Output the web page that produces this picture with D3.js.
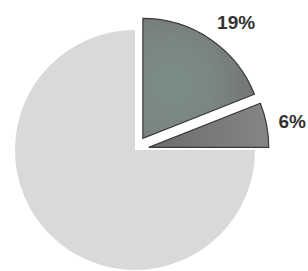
<!DOCTYPE html>
<html><head><meta charset="utf-8">
<script src="https://cdn.jsdelivr.net/npm/d3@7/dist/d3.min.js"></script>
<style>html,body{margin:0;padding:0;background:#fff;}</style>
</head><body>
<script>
const categories = ["A", "B", "C"];
const values = [19, 6, 75];
const labels = ["19%", "6%", ""];
const exploded = [true, true, false];

const W = 308, H = 271;
const cx = 135, cy = 150, R = 120, explode = 14, labelR = 132;
const fills = ["url(#g19)", "url(#g6)", "#d9d9d9"];
const strokes = ["#3a3a3a", "#3a3a3a", "none"];

const svg = d3.select("body").append("svg").attr("width", W).attr("height", H);
const defs = svg.append("defs");
const g19 = defs.append("radialGradient").attr("id", "g19").attr("cx", "25%").attr("cy", "55%").attr("r", "75%");
g19.append("stop").attr("offset", "0%").attr("stop-color", "#7a8e86");
g19.append("stop").attr("offset", "45%").attr("stop-color", "#7b8882");
g19.append("stop").attr("offset", "100%").attr("stop-color", "#737575");
const g6 = defs.append("linearGradient").attr("id", "g6").attr("x1", "0%").attr("x2", "100%");
g6.append("stop").attr("offset", "0%").attr("stop-color", "#6c6c6c");
g6.append("stop").attr("offset", "100%").attr("stop-color", "#858585");

const pie = d3.pie().sort(null).value(d => d)(values);
const arc = d3.arc().innerRadius(0).outerRadius(R);

const g = svg.append("g").attr("transform", `translate(${cx},${cy})`);
pie.forEach((p, i) => {
  const mid = (p.startAngle + p.endAngle) / 2;
  const d = exploded[i] ? explode : 0;
  const ox = d * Math.sin(mid), oy = -d * Math.cos(mid);
  g.append("path")
    .attr("d", arc(p))
    .attr("transform", `translate(${ox},${oy})`)
    .attr("fill", fills[i])
    .attr("stroke", strokes[i])
    .attr("stroke-width", 1.2);
  if (labels[i]) {
    const lx = ox + labelR * Math.sin(mid), ly = oy - labelR * Math.cos(mid);
    g.append("text")
      .attr("x", lx).attr("y", ly)
      .attr("dy", (0.35 - 0.42 * Math.cos(mid)).toFixed(3) + "em")
      .attr("text-anchor", "start")
      .attr("font-family", "Liberation Sans, Arial, sans-serif")
      .attr("font-weight", "bold")
      .attr("font-size", 19)
      .attr("fill", "#333")
      .text(labels[i]);
  }
});
</script>
</body></html>
